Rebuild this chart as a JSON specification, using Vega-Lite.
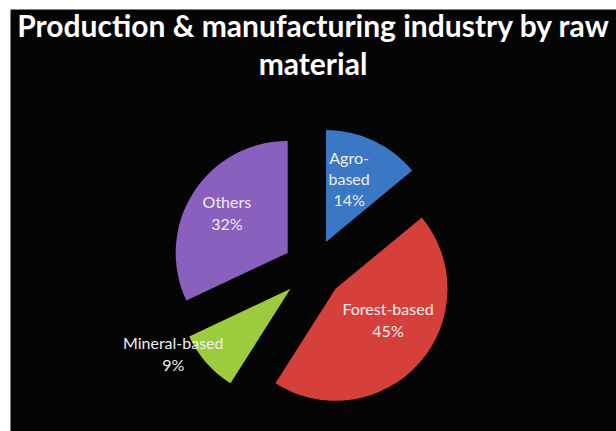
{
  "$schema": "https://vega.github.io/schema/vega-lite/v6.json",
  "width": 616,
  "height": 431,
  "autosize": {"type": "fit", "contains": "padding"},
  "padding": {"left": 10, "top": 9, "right": 0, "bottom": 0},
  "background": "white",
  "view": {"fill": "#050505", "stroke": "transparent"},
  "title": {
    "text": ["Production & manufacturing industry by raw", "material"],
    "font": "Lato",
    "fontWeight": "bold",
    "fontSize": 30,
    "lineHeight": 38,
    "color": "#ffffff",
    "anchor": "middle",
    "baseline": "alphabetic",
    "offset": -96
  },
  "data": {
    "values": [
      {"material": "Agro-based", "value": 14, "label": "Agro-\nbased\n14%"},
      {"material": "Forest-based", "value": 45, "label": "Forest-based\n45%"},
      {"material": "Mineral-based", "value": 9, "label": "Mineral-based\n9%"},
      {"material": "Others", "value": 32, "label": "Others\n32%"}
    ]
  },
  "transform": [
    {"stack": "value", "groupby": [], "as": ["v0", "v1"]},
    {"calculate": "(datum.v0 + datum.v1) / 2", "as": "mid"}
  ],
  "layer": [
    {
      "transform": [{"filter": "datum.material === 'Agro-based'"}],
      "layer": [
        {"mark": {"type": "arc", "outerRadius": 112, "xOffset": 13, "yOffset": 22},
         "encoding": {
           "theta": {"field": "v0", "type": "quantitative", "scale": {"domain": [0, 100]}},
           "theta2": {"field": "v1"},
           "color": {"field": "material", "type": "nominal", "legend": null,
           "scale": {"domain": ["Agro-based", "Forest-based", "Mineral-based", "Others"], "range": ["#3a78c5", "#d6403b", "#9ccb3e", "#8960bd"]}}}},
        {"mark": {"type": "text", "radius": 66, "xOffset": 13, "yOffset": 22, "dx": -5, "dy": -23, "lineBreak": "\n", "lineHeight": 21, "font": "Lato", "fontSize": 16, "color": "#eeeeee", "baseline": "middle", "align": "center"},
         "encoding": {"theta": {"field": "mid", "type": "quantitative"}, "text": {"field": "label"}}}
      ]
    },
    {
      "transform": [{"filter": "datum.material === 'Forest-based'"}],
      "layer": [
        {"mark": {"type": "arc", "outerRadius": 112, "xOffset": 22.5, "yOffset": 68.8},
         "encoding": {"theta": {"field": "v0", "type": "quantitative"}, "theta2": {"field": "v1"}, "color": {"field": "material", "type": "nominal", "legend": null}}},
        {"mark": {"type": "text", "radius": 62, "xOffset": 22.5, "yOffset": 68.8, "dx": 6, "dy": -20, "lineBreak": "\n", "lineHeight": 22, "font": "Lato", "fontSize": 16, "color": "#eeeeee", "baseline": "middle", "align": "center"},
         "encoding": {"theta": {"field": "mid", "type": "quantitative"}, "text": {"field": "label"}}}
      ]
    },
    {
      "transform": [{"filter": "datum.material === 'Mineral-based'"}],
      "layer": [
        {"mark": {"type": "arc", "outerRadius": 112, "xOffset": -22.5, "yOffset": 68.8},
         "encoding": {"theta": {"field": "v0", "type": "quantitative"}, "theta2": {"field": "v1"}, "color": {"field": "material", "type": "nominal", "legend": null}}},
        {"mark": {"type": "text", "radius": 135, "xOffset": -22.5, "yOffset": 68.8, "dx": -16, "dy": -34, "lineBreak": "\n", "lineHeight": 22, "font": "Lato", "fontSize": 16, "color": "#eeeeee", "baseline": "middle", "align": "center"},
         "encoding": {"theta": {"field": "mid", "type": "quantitative"}, "text": {"field": "label"}}}
      ]
    },
    {
      "transform": [{"filter": "datum.material === 'Others'"}],
      "layer": [
        {"mark": {"type": "arc", "outerRadius": 112, "xOffset": -25.3, "yOffset": 32.9},
         "encoding": {"theta": {"field": "v0", "type": "quantitative"}, "theta2": {"field": "v1"}, "color": {"field": "material", "type": "nominal", "legend": null}}},
        {"mark": {"type": "text", "radius": 72, "xOffset": -25.3, "yOffset": 32.9, "dy": -11, "lineBreak": "\n", "lineHeight": 22, "font": "Lato", "fontSize": 16, "color": "#eeeeee", "baseline": "middle", "align": "center"},
         "encoding": {"theta": {"field": "mid", "type": "quantitative"}, "text": {"field": "label"}}}
      ]
    }
  ]
}
